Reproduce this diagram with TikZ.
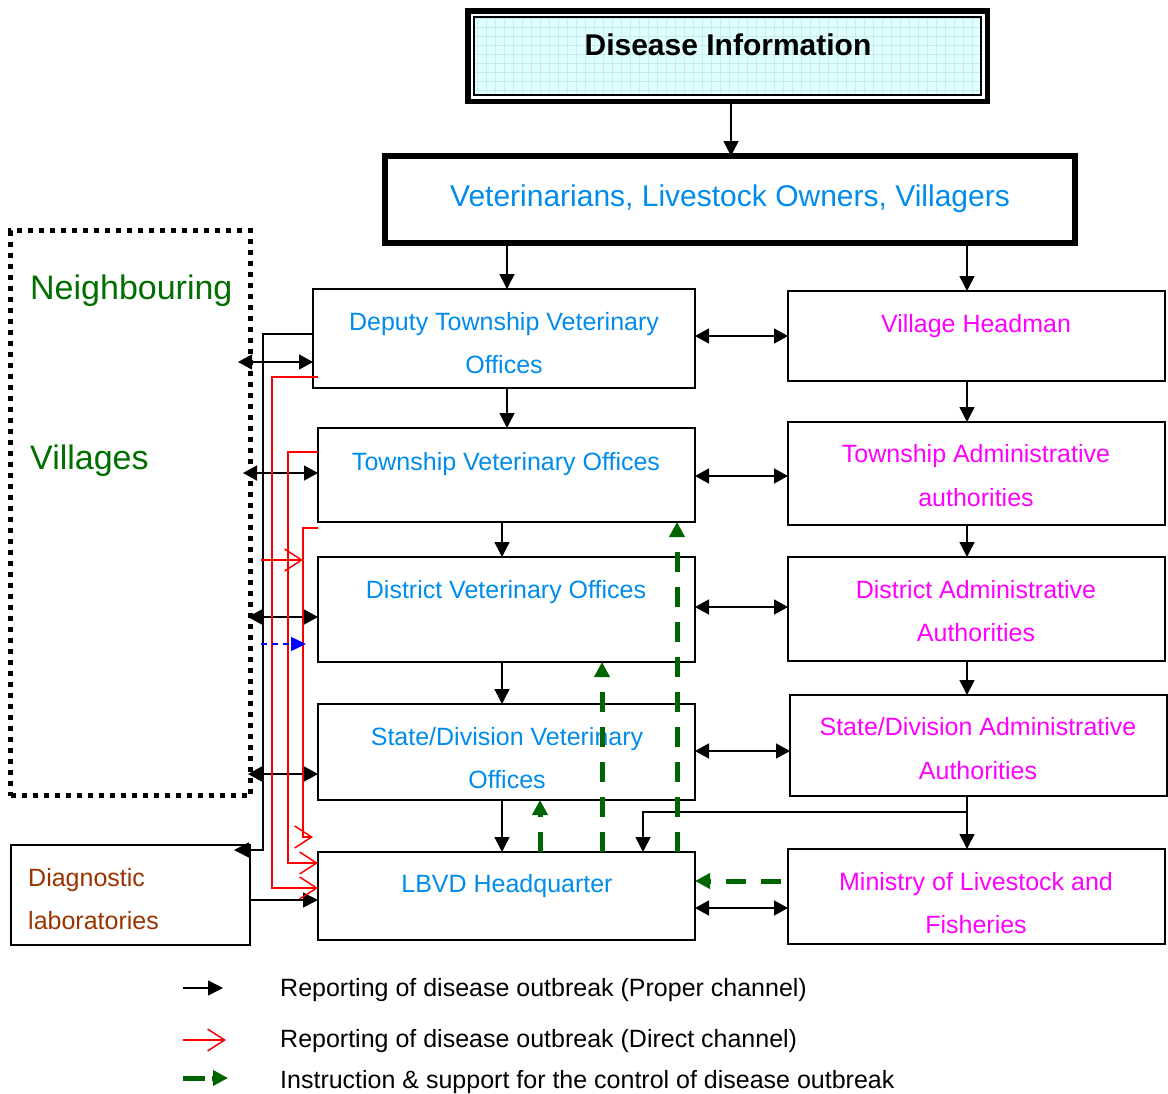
\documentclass[tikz,border=0pt]{standalone}
\usepackage{fontspec}
\setmainfont{Liberation Sans}
\usetikzlibrary{arrows.meta}
\definecolor{vetblue}{RGB}{0,140,235}
\definecolor{admmag}{RGB}{255,0,255}
\definecolor{labbrown}{RGB}{153,51,0}
\definecolor{villgreen}{RGB}{0,110,0}
\definecolor{instgreen}{RGB}{0,100,0}
\definecolor{infocyan}{RGB}{224,255,255}
\definecolor{infogrid}{RGB}{200,236,238}

\begin{document}
\begin{tikzpicture}[x=1pt,y=-1pt,
  box/.style={draw, line width=1.5pt, inner sep=0pt, outer sep=0pt},
  lbl/.style={anchor=base, inner sep=0pt, font=\fontsize{25}{30}\selectfont},
  lblw/.style={lbl, anchor=base west},
  proper/.style={line width=1.5pt, -{Triangle[length=15pt,width=15pt]}},
  both/.style={line width=1.5pt, {Triangle[length=14pt,width=15pt]}-{Triangle[length=14pt,width=15pt]}},
  directarr/.style={draw=red, line width=1.5pt, -{Straight Barb[length=17pt,width=22pt]}},
  tipoff/.style={draw=blue, line width=1.5pt, dash pattern=on 6pt off 5pt, -{Triangle[length=15pt,width=14pt]}},
  instr/.style={draw=instgreen, line width=5pt, dash pattern=on 20pt off 15pt, -{Triangle[length=15pt,width=15pt]}},
]
\useasboundingbox (0,0) rectangle (1168,1093);

% vertical rails used by the connectors
\coordinate (xI)  at (731,0);
\coordinate (xL1) at (507,0);
\coordinate (xL)  at (502,0);
\coordinate (xR)  at (967,0);
\coordinate (xLB) at (643,0);
\coordinate (xG1) at (540,0);
\coordinate (xG2) at (602,0);
\coordinate (xG3) at (677,0);
\coordinate (xK)  at (263,0);
\coordinate (xRa) at (272,0);
\coordinate (xRb) at (288,0);
\coordinate (xRc) at (303,0);

% ---- title box ----
\node[draw, line width=5.5pt, inner sep=0pt, outer sep=0pt,
      minimum width=519.5pt, minimum height=90.5pt] (info) at (727.5,56) {};
\begin{scope}
  \clip ([shift={(6.5,6.5)}]info.north west) rectangle ([shift={(-6.5,-6.5)}]info.south east);
  \fill[infocyan] ([shift={(6.5,6.5)}]info.north west) rectangle ([shift={(-6.5,-6.5)}]info.south east);
  \draw[infogrid, line width=0.4pt, step=9pt] (470,12) grid (986,100);
\end{scope}
\draw[line width=2pt] ([shift={(6.5,6.5)}]info.north west) rectangle ([shift={(-6.5,-6.5)}]info.south east);
\node[lbl, font=\fontsize{30}{36}\selectfont\bfseries] (info-t) at (728,55) {Disease Information};

% ---- first receivers ----
\node[draw, line width=6pt, inner sep=0pt, outer sep=0pt,
      minimum width=690pt, minimum height=87pt] (vet) at (730,199.5) {};
\node[lbl, font=\fontsize{30}{36}\selectfont, text=vetblue] (vet-t) at (730,206)
  {Veterinarians, Livestock Owners, Villagers};

% ---- veterinary chain ----
\node[box, minimum width=382pt, minimum height=99pt]  (dtvo) at (504,338.5) {};
\node[box, minimum width=377pt, minimum height=94pt]  (tvo)  at (506.5,475) {};
\node[box, minimum width=377pt, minimum height=105pt] (dvo)  at (506.5,609.5) {};
\node[box, minimum width=377pt, minimum height=96pt]  (sdvo) at (506.5,752) {};
\node[box, minimum width=377pt, minimum height=88pt]  (lbvd) at (506.5,896) {};

\node[lbl, text=vetblue] (dtvo-1) at (504,330) {Deputy Township Veterinary};
\node[lbl, text=vetblue] (dtvo-2) at (504,373) {Offices};
\node[lbl, text=vetblue] (tvo-1)  at (506,470) {Township Veterinary Offices};
\node[lbl, text=vetblue] (dvo-1)  at (506,598) {District Veterinary Offices};
\node[lbl, text=vetblue] (sdvo-1) at (507,745) {State/Division Veterinary};
\node[lbl, text=vetblue] (sdvo-2) at (507,788) {Offices};
\node[lbl, text=vetblue] (lbvd-1) at (507,892) {LBVD Headquarter};

% ---- administrative chain ----
\node[box, minimum width=377pt, minimum height=90pt]  (vh)  at (976.5,336) {};
\node[box, minimum width=377pt, minimum height=103pt] (ta)  at (976.5,473.5) {};
\node[box, minimum width=377pt, minimum height=104pt] (da)  at (976.5,609) {};
\node[box, minimum width=377pt, minimum height=101pt] (sda) at (978.5,745.5) {};
\node[box, minimum width=377pt, minimum height=95pt]  (mlf) at (976.5,896.5) {};

\node[lbl, text=admmag] (vh-1)  at (976,332) {Village Headman};
\node[lbl, text=admmag] (ta-1)  at (976,462) {Township Administrative};
\node[lbl, text=admmag] (ta-2)  at (976,506) {authorities};
\node[lbl, text=admmag] (da-1)  at (976,598) {District Administrative};
\node[lbl, text=admmag] (da-2)  at (976,641) {Authorities};
\node[lbl, text=admmag] (sda-1) at (978,735) {State/Division Administrative};
\node[lbl, text=admmag] (sda-2) at (978,779) {Authorities};
\node[lbl, text=admmag] (mlf-1) at (976,890) {Ministry of Livestock and};
\node[lbl, text=admmag] (mlf-2) at (976,933) {Fisheries};

% ---- neighbouring villages and laboratories ----
\node[draw, line width=5pt, dash pattern=on 5pt off 6pt, inner sep=0pt, outer sep=0pt,
      minimum width=240pt, minimum height=565pt] (vill) at (130.5,513) {};
\node[lblw, font=\fontsize{34}{40}\selectfont, text=villgreen] (vill-1) at (30,299) {Neighbouring};
\node[lblw, font=\fontsize{34}{40}\selectfont, text=villgreen] (vill-2) at (30,469) {Villages};

\node[box, minimum width=239pt, minimum height=100pt] (diag) at (130.5,895) {};
\node[lblw, text=labbrown] (diag-1) at (28,886) {Diagnostic};
\node[lblw, text=labbrown] (diag-2) at (28,929) {laboratories};

% ---- proper channel ----
\draw[proper] (info.south -| xI) -- (vet.north -| xI);
\draw[proper] (vet.south -| xL1) -- (dtvo.north -| xL1);
\draw[proper] (vet.south -| xR) -- (vh.north -| xR);
\draw[proper] (dtvo.south -| xL1) -- (tvo.north -| xL1);
\draw[proper] (tvo.south -| xL) -- (dvo.north -| xL);
\draw[proper] (dvo.south -| xL) -- (sdvo.north -| xL);
\draw[proper] (sdvo.south -| xL) -- (lbvd.north -| xL);
\draw[proper] (vh.south -| xR) -- (ta.north -| xR);
\draw[proper] (ta.south -| xR) -- (da.north -| xR);
\draw[proper] (da.south -| xR) -- (sda.north -| xR);
\draw[proper] (sda.south -| xR) -- (mlf.north -| xR);
\draw[proper] (xR |- 0,812) -| (lbvd.north -| xLB);

\draw[both] (dtvo.east |- 0,336) -- (vh.west |- 0,336);
\draw[both] (tvo.east |- 0,476) -- (ta.west |- 0,476);
\draw[both] (dvo.east |- 0,607) -- (da.west |- 0,607);
\draw[both] (sdvo.east |- 0,751) -- (sda.west |- 0,751);
\draw[both] (lbvd.east |- 0,908) -- (mlf.west |- 0,908);

\draw[both] (238,362) -- (dtvo.west |- 0,362);
\draw[both] (243,473) -- (tvo.west |- 0,473);
\draw[both] (248,617) -- (dvo.west |- 0,617);
\draw[both] (248,774) -- (sdvo.west |- 0,774);

\draw[proper] (dtvo.west |- 0,334) -| (xK |- 0,850) -- (234,850);
\draw[proper] (diag.east |- 0,900) -- (lbvd.west |- 0,900);

% ---- direct channel ----
\draw[directarr] (318,377) -| (xRa |- 0,888) -- (lbvd.west |- 0,888);
\draw[directarr] (tvo.west |- 0,452) -| (xRb |- 0,863) -- (lbvd.west |- 0,863);
\draw[directarr] (tvo.west |- 0,528) -| (xRc |- 0,837) -- (313,837);
\draw[directarr] (261,560) -- (xRc |- 0,560);
\draw[tipoff] (261,644) -- (306,644);

% ---- instruction & support ----
\draw[instr] (lbvd.north -| xG1) -- (sdvo.south -| xG1);
\draw[instr] (lbvd.north -| xG2) -- (dvo.south -| xG2);
\draw[instr] (lbvd.north -| xG3) -- (tvo.south -| xG3);
\draw[instr, dash phase=28pt] (mlf.west |- 0,881) -- (lbvd.east |- 0,881);

% ---- legend ----
\coordinate (k1a) at (183,988);  \coordinate (k1b) at (223,988);
\coordinate (k2a) at (183,1040); \coordinate (k2b) at (226,1040);
\coordinate (k3a) at (183,1078); \coordinate (k3b) at (228,1078);
\draw[proper] (k1a) -- (k1b);
\draw[directarr] (k2a) -- (k2b);
\draw[instr, dash pattern=on 22pt off 7pt] (k3a) -- (k3b);
\node[lblw] (key-1) at (280,996)  {Reporting of disease outbreak (Proper channel)};
\node[lblw] (key-2) at (280,1047) {Reporting of disease outbreak (Direct channel)};
\node[lblw] (key-3) at (280,1088) {Instruction \& support for the control of disease outbreak};
\end{tikzpicture}
\end{document}
